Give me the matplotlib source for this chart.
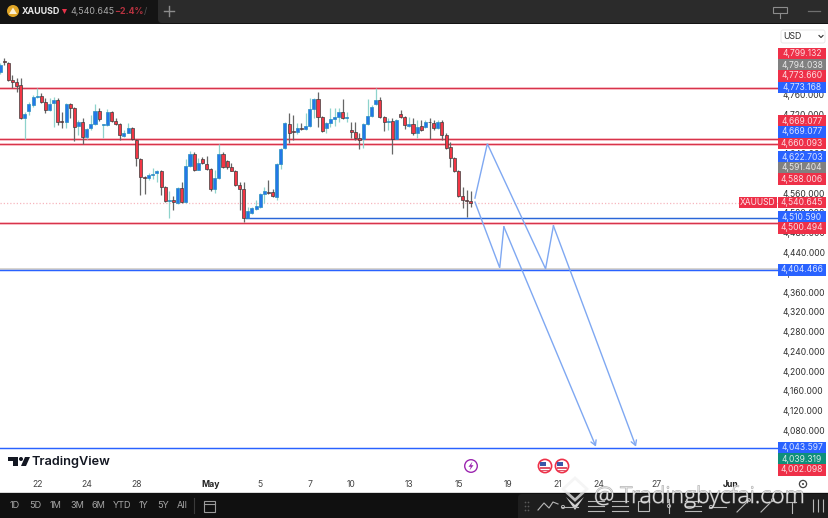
"""XAUUSD 4h candles with drawn levels and projected paths, TradingView style."""

import matplotlib

matplotlib.use("Agg")
import matplotlib.patheffects as pe
import matplotlib.pyplot as plt
from matplotlib.patches import Circle, FancyBboxPatch, Polygon, Rectangle

plt.rcParams["font.family"] = ["Inter", "Roboto", "DejaVu Sans"]

# open, high, low, close of each bar
opens = [4805, 4828, 4824, 4789, 4785, 4779, 4712, 4726, 4739, 4755, 4757, 4745, 4728, 4743, 4749, 4706,
         4704, 4741, 4732, 4696, 4704, 4674, 4692, 4700, 4726, 4697, 4698, 4724, 4706, 4700, 4676, 4682,
         4692, 4668, 4629, 4593, 4591, 4597, 4601, 4605, 4573, 4545, 4546, 4540, 4571, 4542, 4615, 4639,
         4607, 4629, 4619, 4609, 4569, 4591, 4639, 4625, 4613, 4605, 4577, 4569, 4510, 4520, 4528, 4532,
         4558, 4563, 4563, 4552, 4619, 4652, 4700, 4685, 4684, 4691, 4690, 4696, 4730, 4751, 4714, 4692,
         4702, 4710, 4714, 4724, 4713, 4688, 4684, 4672, 4670, 4700, 4716, 4741, 4749, 4714, 4705, 4706,
         4670, 4720, 4714, 4696, 4700, 4682, 4696, 4694, 4705, 4702, 4692, 4704, 4678, 4654, 4631, 4605,
         4554, 4546, 4544]
highs = [4824, 4834, 4826, 4799, 4793, 4793, 4724, 4745, 4759, 4773, 4763, 4753, 4753, 4755, 4753, 4724,
         4743, 4743, 4734, 4708, 4712, 4692, 4718, 4741, 4732, 4700, 4730, 4726, 4712, 4702, 4688, 4702,
         4694, 4669, 4631, 4594, 4601, 4611, 4606, 4607, 4574, 4565, 4554, 4573, 4583, 4629, 4645, 4643,
         4631, 4633, 4635, 4611, 4607, 4660, 4643, 4627, 4621, 4607, 4583, 4583, 4532, 4532, 4546, 4560,
         4573, 4587, 4569, 4621, 4652, 4703, 4722, 4718, 4702, 4702, 4722, 4753, 4753, 4765, 4716, 4704,
         4732, 4732, 4732, 4751, 4724, 4704, 4704, 4682, 4702, 4751, 4739, 4773, 4755, 4716, 4712, 4712,
         4710, 4728, 4716, 4714, 4712, 4708, 4708, 4708, 4712, 4708, 4708, 4708, 4682, 4664, 4633, 4607,
         4573, 4567, 4565]
lows = [4801, 4819, 4787, 4773, 4765, 4710, 4670, 4718, 4734, 4753, 4743, 4722, 4727, 4694, 4698, 4692,
        4692, 4712, 4666, 4678, 4660, 4670, 4688, 4698, 4706, 4672, 4696, 4705, 4698, 4668, 4674, 4681,
        4668, 4615, 4556, 4558, 4587, 4589, 4583, 4556, 4542, 4510, 4526, 4538, 4540, 4541, 4613, 4605,
        4606, 4619, 4607, 4565, 4560, 4589, 4611, 4609, 4604, 4575, 4526, 4502, 4509, 4518, 4526, 4531,
        4540, 4558, 4552, 4546, 4609, 4650, 4662, 4668, 4680, 4688, 4688, 4694, 4712, 4694, 4684, 4682,
        4694, 4696, 4704, 4710, 4704, 4672, 4668, 4650, 4652, 4698, 4714, 4739, 4712, 4686, 4688, 4639,
        4669, 4712, 4690, 4694, 4678, 4672, 4686, 4692, 4670, 4688, 4690, 4668, 4650, 4613, 4603, 4552,
        4530, 4512, 4532]
closes = [4819, 4826, 4789, 4785, 4777, 4712, 4720, 4741, 4755, 4757, 4745, 4728, 4741, 4749, 4704, 4704,
          4741, 4732, 4694, 4704, 4674, 4690, 4700, 4726, 4710, 4699, 4724, 4706, 4700, 4678, 4682, 4692,
          4670, 4631, 4593, 4591, 4597, 4599, 4605, 4573, 4544, 4547, 4542, 4571, 4542, 4615, 4639, 4607,
          4621, 4621, 4609, 4569, 4591, 4639, 4613, 4613, 4605, 4577, 4569, 4510, 4524, 4530, 4534, 4558,
          4565, 4561, 4554, 4619, 4650, 4702, 4682, 4683, 4692, 4689, 4696, 4730, 4751, 4714, 4686, 4702,
          4710, 4714, 4724, 4712, 4715, 4684, 4672, 4668, 4700, 4716, 4734, 4749, 4714, 4704, 4707, 4670,
          4708, 4714, 4698, 4700, 4682, 4694, 4688, 4704, 4703, 4692, 4704, 4678, 4652, 4631, 4605, 4554,
          4546, 4544, 4540.645]

# drawn levels
red_levels = [4773.66, 4669.077, 4660.093, 4500.494]
blue_levels = [4404.466, 4043.597]
blue_short_level = 4510.59
last_price = 4540.645

# projected paths, bar number and price
path_a_bars = [115, 118, 132.1, 134, 154]
path_a_prices = [4550, 4660, 4407, 4494, 4047]
path_b_bars = [115, 121, 122, 144.3]
path_b_prices = [4542, 4409, 4492, 4047]

# axis text
price_ticks = list(range(4080, 4761, 40))
date_bars = [9, 21, 33, 51, 63, 75, 85, 99, 111, 123, 135, 145, 159, 177]
date_labels = ["22", "24", "28", "May", "5", "7", "10", "13", "15", "19", "21", "24", "27", "Jun"]
range_labels = ["1D", "5D", "1M", "3M", "6M", "YTD", "1Y", "5Y", "All"]

# price scale tags, stacked as TradingView stacks them
tag_texts = ["4,799.132", "4,794.038", "4,773.660", "4,773.168", "4,669.077", "4,669.077", "4,660.093",
             "4,622.703", "4,591.404", "4,588.006", "4,540.645", "4,510.590", "4,500.494", "4,404.466",
             "4,043.597", "4,039.319", "4,002.098"]
tag_kinds = ["r", "g", "r", "b", "r", "b", "r", "b", "g", "r", "r", "b", "r", "b", "b", "t", "r"]
tag_rows = [54, 65, 76, 87.5, 121, 132, 143.5, 157, 168, 179, 202.5, 217, 228, 270, 448, 459, 470]

RED = "#f23645"
BLUE = "#2962ff"
BODY_BLUE = "#2377e8"
TEAL_WICK = "#8ed3cc"
DARK = "#3d3d3d"
TEXT = "#2e2e2e"
PATH = "#7fa8f2"
ICON = "#b8b8b8"
PANEL = "#1e1e1e"
TAG_COLORS = {"r": "#ee3048", "b": "#2962ff", "g": "#808080", "t": "#0f8f7a"}

W, H = 829, 518
fig = plt.figure(figsize=(W / 100, H / 100), dpi=100, facecolor="white")

# main pane, placed by pixels
ax = fig.add_axes([0, (H - 477) / H, 778 / W, (477 - 24) / H])
ax.set_xlim(0, 778 / 4.13)
ax.set_ylim(3985.7, 4902.3)
for spine in ax.spines.values():
    spine.set_visible(False)

ax.yaxis.tick_right()
ax.set_yticks(price_ticks)
ax.set_yticklabels([f"{p:,}.000" for p in price_ticks], fontsize=6.1, color=TEXT)
ax.tick_params(axis="y", length=0, pad=3.6)
ax.set_xticks(date_bars)
ax.set_xticklabels(date_labels, fontsize=6.2, color="#444444")
ax.tick_params(axis="x", length=0, pad=2.4)
for lab in ax.get_xticklabels():
    if lab.get_text() in ("May", "Jun"):
        lab.set_fontweight("bold")
        lab.set_color("#222222")

# levels
for level in red_levels:
    ax.axhline(level, color="#fbbcc4", lw=1.9, zorder=1)
    ax.axhline(level, color="#d7344b", lw=0.85, zorder=1.1)
ax.axhline(blue_levels[0] + 1.5, color="#d3cec6", lw=1.2, zorder=1)
for level in blue_levels:
    ax.axhline(level, color=BLUE, lw=1.05, zorder=1.1)
ax.plot([59.5, 778 / 4.13], [blue_short_level] * 2, color="#2a66d8", lw=1.05, zorder=1.1)
ax.axhline(last_price, color="#f7b6be", lw=0.9, ls=(0, (1, 1.6)), zorder=1)

# candles
for i, (o, h, l, c) in enumerate(zip(opens, highs, lows, closes)):
    up = c >= o
    ax.vlines(i, l, h, color=TEAL_WICK if up else "#666666", lw=0.9, zorder=2)
    ax.bar(
        i, max(abs(c - o), 1.5), bottom=min(o, c), width=0.74,
        color=BODY_BLUE if up else RED,
        edgecolor="#2a8fc0" if up else DARK, lw=0.5, zorder=3,
    )

# projected paths with open arrow heads
for bars, prices in ((path_a_bars, path_a_prices), (path_b_bars, path_b_prices)):
    ax.plot(bars[:-1], prices[:-1], color=PATH, lw=1.0, zorder=4, solid_joinstyle="miter")
    ax.annotate(
        "", xy=(bars[-1], prices[-1]), xytext=(bars[-2], prices[-2]),
        arrowprops=dict(arrowstyle="->,head_length=0.35,head_width=0.2", color=PATH, lw=1.0,
                        shrinkA=0, shrinkB=0),
        zorder=4,
    )

# everything that is page furniture goes on a pixel overlay
ui = fig.add_axes([0, 0, 1, 1], zorder=5)
ui.set_xlim(0, W)
ui.set_ylim(H, 0)
ui.axis("off")
ui.patch.set_alpha(0)

# price scale tags
for text, kind, row in zip(tag_texts, tag_kinds, tag_rows):
    color = TAG_COLORS[kind]
    ui.add_patch(Rectangle((778, row - 5.6), 48, 11.2, color=color, lw=0))
    ui.text(802, row, text, color="white", alpha=0.82, fontsize=6.1, ha="center", va="center")
ui.add_patch(Rectangle((739, 197), 38, 11, color="#ee3048", lw=0))
ui.text(758, 202.5, "XAUUSD", color="white", alpha=0.88, fontsize=6.1, ha="center", va="center")

# currency box
ui.add_patch(FancyBboxPatch((781, 30), 44, 13, boxstyle="round,pad=0,rounding_size=2",
                            fc="white", ec="#e8e8e8", lw=0.7))
ui.text(783, 36.5, "USD", fontsize=6.3, color=TEXT, va="center")
ui.plot([819, 821, 823], [35.5, 37.5, 35.5], color=TEXT, lw=0.8)

# top bar
ui.add_patch(Rectangle((0, 0), W, 23.5, color="#141414", lw=0))
ui.add_patch(FancyBboxPatch((158, -6), 680, 29, boxstyle="round,pad=0,rounding_size=4",
                            fc="#2b2b2b", ec="none"))
ui.add_patch(Circle((13, 11), 6, color="#e0a526", lw=0))
ui.add_patch(Polygon([[9, 14], [13, 7.5], [17, 14]], color="#fbeed0", lw=0))
ui.text(22, 11.3, "XAUUSD", color="#e8e8e8", fontsize=6.4, fontweight="bold", va="center")
ui.add_patch(Polygon([[62, 9], [67, 9], [64.5, 14]], color="#e8334a", lw=0))
ui.text(70, 11.3, "4,540.645", color="#a8a8a8", fontsize=6.4, va="center")
ui.text(114, 11.3, "−2.4%", color="#b5323f", fontsize=6.4, fontweight="bold", va="center")
ui.text(144, 11.3, "/", color="#555555", fontsize=6.4, va="center")
ui.plot([164, 174], [11, 11], color="#8c8c8c", lw=1)
ui.plot([169, 169], [6, 16], color="#8c8c8c", lw=1)
ui.add_patch(Rectangle((773, 7), 14, 6, fc="none", ec="#8c8c8c", lw=0.8))
ui.plot([780, 780], [13, 18], color="#8c8c8c", lw=0.8)
ui.plot([808, 820], [11, 11], color="#6f6f6f", lw=0.9)

# TradingView mark
ui.add_patch(Polygon([[8, 457], [18, 457], [18, 466], [13, 466], [13, 461], [8, 461]], color="#131722", lw=0))
ui.add_patch(Circle((21, 459), 2, color="#131722", lw=0))
ui.add_patch(Polygon([[21, 466], [25, 457], [30, 457], [26, 466]], color="#131722", lw=0))
ui.text(32, 461.5, "TradingView", fontsize=9.2, color="#131722", fontweight="semibold", va="center")

# event markers
ui.add_patch(Circle((471, 466), 6.3, fc="white", ec="#9c27b0", lw=1))
ui.add_patch(Polygon([[472.5, 461.5], [468.5, 466.8], [470.8, 466.8], [469.5, 470.5], [473.5, 465.2], [471.2, 465.2]],
                     color="#9c27b0", lw=0))
for cx in (545, 562):
    ui.add_patch(Circle((cx, 466), 6.6, fc="white", ec="#ee3048", lw=1.2))
    ui.add_patch(Rectangle((cx - 5, 462), 6, 4, color="#3a57a8", lw=0))
    ui.add_patch(Rectangle((cx - 5, 467), 10, 1.5, color="#e0566a", lw=0))
    ui.add_patch(Rectangle((cx - 4, 469.5), 8, 1.2, color="#e0566a", lw=0))

# bottom bar
ui.plot([0, W], [492.3, 492.3], color="#d8d8d8", lw=0.7)
ui.add_patch(Rectangle((0, 492.5), W, 26, color="#101010", lw=0))
ui.add_patch(FancyBboxPatch((518, 494), 320, 30, boxstyle="round,pad=0,rounding_size=4",
                            fc=PANEL, ec="none"))
range_x = [15, 35, 56, 77, 98, 122, 144, 163, 182]
for x, label in zip(range_x, range_labels):
    ui.text(x, 506, label, color="#a6a6a6", fontsize=6.6, ha="center", va="center")
ui.plot([194, 194], [498, 513], color="#3a3a3a", lw=0.8)
ui.add_patch(Rectangle((204, 501), 11, 11, fc="none", ec="#9a9a9a", lw=0.8))
ui.plot([204, 215], [504, 504], color="#9a9a9a", lw=0.8)

# gear on the time scale
ui.add_patch(Circle((803, 484), 3.6, fc="white", ec="#444444", lw=0.9))
ui.add_patch(Circle((803, 484), 1, fc="#444444", ec="none"))

# drawing tools in the bottom right panel
ui.scatter([525, 528, 525, 528, 525, 528], [502, 502, 506, 506, 510, 510], s=1.5, color="#5a5a5a", lw=0)
ui.plot([538, 544, 549, 553, 558], [510, 503, 508, 502, 504], color=ICON, lw=0.8)
for x in (570, 718):
    ui.plot([x - 8, x + 8], [507, 507], color=ICON, lw=0.8)
    ui.add_patch(Circle((x - 7, 507), 1.6, fc=PANEL, ec=ICON, lw=0.7))
for x in (596, 620, 693):
    ui.plot([x - 8, x + 8], [501, 501], color=ICON, lw=0.8)
    ui.plot([x - 8, x + 8], [506, 506], color=ICON, lw=0.8)
    ui.plot([x - 8, x + 8], [511, 511], color=ICON, lw=0.8)
ui.add_patch(Rectangle((638, 501), 11, 10, fc="none", ec=ICON, lw=0.8))
ui.plot([669, 669], [499, 513], color=ICON, lw=0.8)
ui.add_patch(Circle((669, 506), 1.6, fc=PANEL, ec=ICON, lw=0.7))
for x in (743, 767):
    ui.plot([x - 6, x + 6], [512, 500], color=ICON, lw=0.8)
    ui.add_patch(Circle((x + 6, 500), 1.5, fc=PANEL, ec=ICON, lw=0.7))
ui.plot([792, 792], [502, 513], color=ICON, lw=0.8)
ui.plot([788, 796], [502, 502], color=ICON, lw=0.8)
ui.vlines([813, 818, 823], 499, 512, color=ICON, lw=0.8)

# watermark
halo = [pe.withStroke(linewidth=0.8, foreground="#8a8a8a")]
ui.add_patch(Polygon([[575, 478], [587, 489], [575, 500], [563, 489]], fc="none", ec="#f2f2f2", lw=2, alpha=0.75))
ui.add_patch(Polygon([[566, 497], [575, 505], [584, 497], [575, 510]], color="#f2f2f2", lw=0, alpha=0.85))
ui.text(594, 497, "@ Tradingbycfai.com", color="white", alpha=0.7, fontsize=16.5, va="center",
        family="Open Sans", fontweight="light", path_effects=halo)

fig.savefig("out.png", dpi=100)
